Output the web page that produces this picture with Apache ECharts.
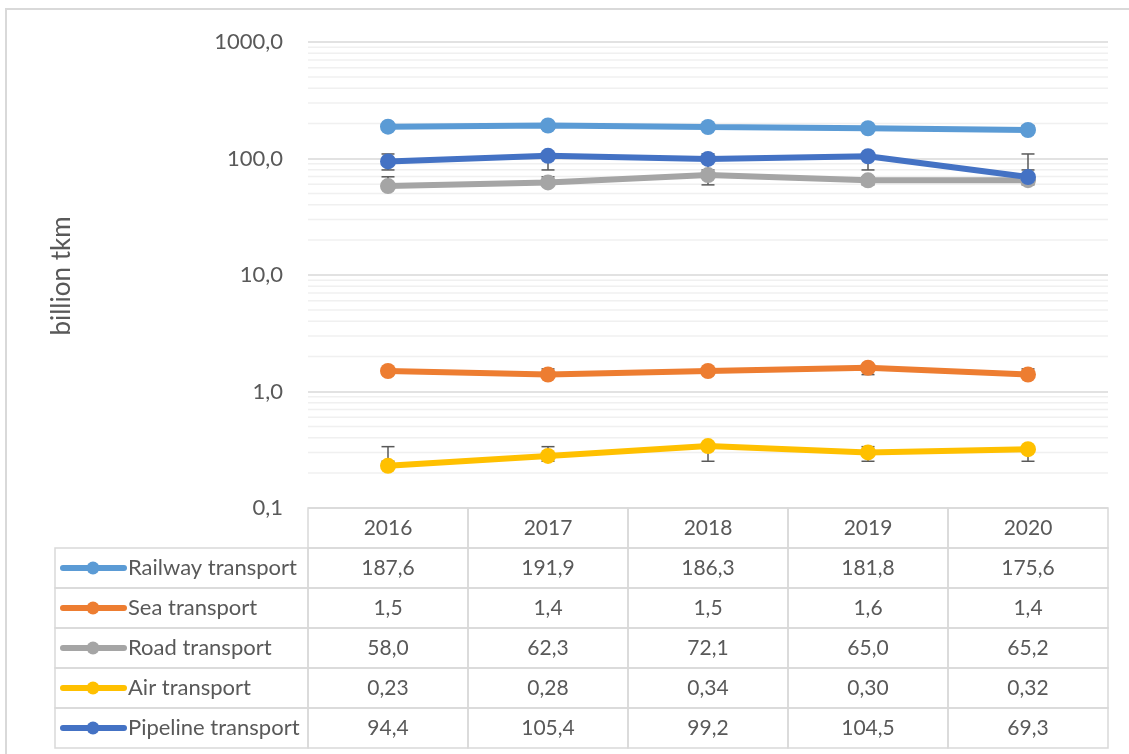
<!DOCTYPE html>
<html>
<head>
<meta charset="utf-8">
<script src="https://cdn.jsdelivr.net/npm/echarts@6/dist/echarts.min.js"></script>
<style>
  html, body { margin: 0; padding: 0; background: #fff; }
  #chart { width: 1129px; height: 754px; }
</style>
</head>
<body>
<div id="chart"></div>
<script>
// data, billion tkm
const years = ['2016', '2017', '2018', '2019', '2020'];
const seriesNames = ['Railway transport', 'Sea transport', 'Road transport', 'Air transport', 'Pipeline transport'];
const railway = [187.6, 191.9, 186.3, 181.8, 175.6];
const sea = [1.5, 1.4, 1.5, 1.6, 1.4];
const road = [58.0, 62.3, 72.1, 65.0, 65.2];
const air = [0.23, 0.28, 0.34, 0.30, 0.32];
const pipeline = [94.4, 105.4, 99.2, 104.5, 69.3];
const tableDecimals = [1, 1, 1, 2, 1];
const colors = ['#5B9BD5', '#ED7D31', '#A5A5A5', '#FFC000', '#4472C4'];

const allValues = [railway, sea, road, air, pipeline];
const FONT = 'Lato';
const TEXT = '#595959';
const fmt = (v, d) => v.toFixed(d).replace('.', ',');

// excel style "standard deviation" error bars: mean +/- 1 sd, at every category
function errorRange(vals) {
  const mean = vals.reduce((a, b) => a + b, 0) / vals.length;
  const sd = Math.sqrt(vals.reduce((a, b) => a + (b - mean) * (b - mean), 0) / (vals.length - 1));
  return [mean - sd, mean + sd];
}

// minor log gridlines 2..9 in each decade
const minorValues = [];
[0.1, 1, 10, 100].forEach(base => {
  for (let k = 2; k <= 9; k++) minorValues.push(base * k);
});

const tableRows = ['header'].concat(seriesNames);

const chart = echarts.init(document.getElementById('chart'));

const errorSeries = allValues.map((vals, i) => {
  const [lo, hi] = errorRange(vals);
  return {
    type: 'custom',
    name: 'err' + i,
    xAxisIndex: 0,
    yAxisIndex: 0,
    z: 3,
    silent: true,
    encode: { x: 0, y: [1, 2] },
    data: years.map((y, j) => [j, lo, hi]),
    renderItem(params, api) {
      const top = api.coord([api.value(0), api.value(2)]);
      const bot = api.coord([api.value(0), api.value(1)]);
      const cap = 6.5;
      const style = { stroke: '#595959', lineWidth: 1.5 };
      return {
        type: 'group',
        children: [
          { type: 'line', shape: { x1: top[0], y1: top[1], x2: bot[0], y2: bot[1] }, style },
          { type: 'line', shape: { x1: top[0] - cap, y1: top[1], x2: top[0] + cap, y2: top[1] }, style },
          { type: 'line', shape: { x1: bot[0] - cap, y1: bot[1], x2: bot[0] + cap, y2: bot[1] }, style }
        ]
      };
    }
  };
});

const lineSeries = allValues.map((vals, i) => ({
  type: 'line',
  name: seriesNames[i],
  xAxisIndex: 0,
  yAxisIndex: 0,
  z: 5,
  data: vals,
  symbol: 'circle',
  symbolSize: 16,
  lineStyle: { width: 6, color: colors[i] },
  itemStyle: { color: colors[i] }
}));

const option = {
  backgroundColor: '#fff',
  animation: false,
  textStyle: { fontFamily: FONT },
  graphic: [
    {
      type: 'rect',
      shape: { x: 6, y: 9, width: 1200, height: 800 },
      style: { fill: 'none', stroke: '#d9d9d9', lineWidth: 2 },
      silent: true
    },
    {
      type: 'text',
      x: 62, y: 276, rotation: Math.PI / 2,
      style: {
        text: 'billion tkm', fontFamily: FONT, fontSize: 26, fill: TEXT,
        align: 'center', verticalAlign: 'middle'
      },
      silent: true
    }
  ],
  grid: [
    { left: 308, right: 21, top: 42, bottom: 246 },
    { left: 308, right: 21, top: 508, height: 240 }
  ],
  xAxis: [
    {
      type: 'category', gridIndex: 0, data: years, boundaryGap: true,
      axisLine: { show: false }, axisTick: { show: false }, axisLabel: { show: false }
    },
    {
      type: 'category', gridIndex: 1, data: years, boundaryGap: true, show: false
    }
  ],
  yAxis: [
    {
      type: 'log', gridIndex: 0, logBase: 10, min: 0.1, max: 1000,
      axisLine: { show: false }, axisTick: { show: false },
      axisLabel: {
        fontFamily: FONT, fontSize: 22, color: TEXT, margin: 25,
        formatter: v => fmt(v, 1)
      },
      splitLine: { show: true, lineStyle: { color: '#d9d9d9', width: 1.5 } }
    },
    {
      type: 'category', gridIndex: 1, data: tableRows, inverse: true, show: false
    }
  ],
  series: [
    {
      type: 'custom',
      name: 'minorGrid',
      xAxisIndex: 0,
      yAxisIndex: 0,
      z: 1,
      silent: true,
      encode: { x: 0, y: 1 },
      data: minorValues.map(v => [0, v]),
      renderItem(params, api) {
        const y = api.coord([0, api.value(1)])[1];
        const cs = params.coordSys;
        return {
          type: 'line',
          shape: { x1: cs.x, y1: y, x2: cs.x + cs.width, y2: y },
          style: { stroke: '#f0f0f0', lineWidth: 1.5 }
        };
      }
    },
    ...errorSeries,
    ...lineSeries,
    {
      type: 'custom',
      name: 'table',
      xAxisIndex: 1,
      yAxisIndex: 1,
      z: 6,
      silent: true,
      clip: false,
      encode: { x: 0, y: 1 },
      data: tableRows.map((r, ri) => [0, ri]),
      renderItem(params, api) {
        const ri = api.value(1);
        const c0 = api.coord([0, ri]);
        const size = api.size([1, 1]);
        const w = size[0], h = size[1];
        const top = c0[1] - h / 2;
        const left0 = c0[0] - w / 2;
        const border = { fill: 'none', stroke: '#d9d9d9', lineWidth: 1.5 };
        const txt = { fontFamily: FONT, fontSize: 21, fill: TEXT, align: 'center', verticalAlign: 'middle' };
        const children = [];
        for (let c = 0; c < years.length; c++) {
          const x = left0 + c * w;
          children.push({ type: 'rect', shape: { x, y: top, width: w, height: h }, style: border });
          const label = ri === 0 ? years[c] : fmt(allValues[ri - 1][c], tableDecimals[ri - 1]);
          children.push({ type: 'text', x: x + w / 2, y: top + h / 2, style: Object.assign({ text: label }, txt) });
        }
        if (ri > 0) {
          const labW = 253;
          const lx = left0 - labW;
          const col = colors[ri - 1];
          children.push({ type: 'rect', shape: { x: lx, y: top, width: labW, height: h }, style: border });
          children.push({ type: 'line', shape: { x1: lx + 8, y1: top + h / 2, x2: lx + 69, y2: top + h / 2 },
            style: { stroke: col, lineWidth: 6, lineCap: 'round' } });
          children.push({ type: 'circle', shape: { cx: lx + 38, cy: top + h / 2, r: 6.5 }, style: { fill: col } });
          children.push({ type: 'text', x: lx + 73, y: top + h / 2,
            style: Object.assign({ text: seriesNames[ri - 1] }, txt, { align: 'left', fontSize: 22 }) });
        }
        return { type: 'group', children };
      }
    }
  ]
};

chart.setOption(option);
</script>
</body>
</html>
